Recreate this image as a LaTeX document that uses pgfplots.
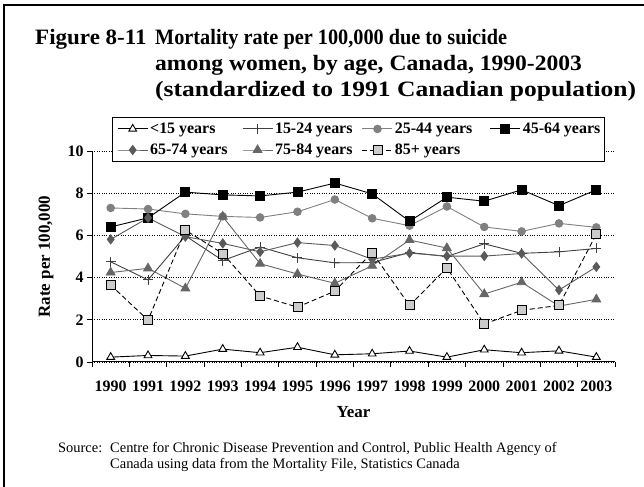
\documentclass[border=0pt]{standalone}
\usepackage{fontspec}
\setmainfont{Liberation Serif}
\usepackage{pgfplots}
\pgfplotsset{compat=1.18}
\definecolor{g15}{HTML}{404040}
\definecolor{g25}{HTML}{808080}
\definecolor{g65}{HTML}{5A5A5A}
\definecolor{g75}{HTML}{666666}
\definecolor{g85}{HTML}{CCCCCC}
\begin{document}
\begin{tikzpicture}[x=1bp,y=1bp]
\useasboundingbox (0,0) rectangle (644,487);
\draw[line width=1.5bp] (4,0) -- (4,482) -- (644,482);
\coordinate (AX) at (92,125);
\begin{scope}[font=\bfseries\fontsize{22}{25}\selectfont]
\node[anchor=base west,inner sep=0] at (35,442) {\scalebox{1.05}[1]{Figure 8-11}};
\node[anchor=base west,inner sep=0] at (155,442) {\scalebox{0.925}[1]{Mortality rate per 100,000 due to suicide}};
\node[anchor=base west,inner sep=0] at (155,416) {\scalebox{1.075}[1]{among women, by age, Canada, 1990-2003}};
\node[anchor=base west,inner sep=0] at (155,390) {\scalebox{1.165}[1]{(standardized to 1991 Canadian population)}};
\end{scope}
\begin{scope}[font=\fontsize{14.5}{16}\selectfont]
\node[anchor=base west,inner sep=0] at (58,34) {Source:};
\node[anchor=base west,inner sep=0] at (110,34) {Centre for Chronic Disease Prevention and Control, Public Health Agency of};
\node[anchor=base west,inner sep=0] at (110,18) {Canada using data from the Mortality File, Statistics Canada};
\end{scope}
\begin{axis}[
  at={(AX)}, anchor=south west, scale only axis,
  width=523bp, height=211bp,
  xmin=1989.5, xmax=2003.5, ymin=0, ymax=10,
  axis x line*=bottom, axis y line*=left,
  axis line style={line width=1bp},
  xtick={1989.5,1990.5,...,2003.5},
  x tick label as interval,
  xticklabels={1990,1991,1992,1993,1994,1995,1996,1997,1998,1999,2000,2001,2002,2003},
  ytick={0,2,4,6,8,10},
  tick align=outside, major tick length=5bp,
  tick style={black, line width=0.8bp},
  ymajorgrids, grid style={black, dotted, line width=0.8bp},
  /pgf/number format/assume math mode=true,
  ticklabel style={font=\bfseries\fontsize{16}{16}\selectfont},
  xticklabel style={yshift=-10bp},
  xlabel={Year}, ylabel={Rate per 100,000},
  label style={font=\bfseries\fontsize{17}{17}\selectfont},
  xlabel style={at={(axis description cs:0.5,-0.237)}, anchor=center},
  ylabel style={at={(axis description cs:-0.088,0.5)}, anchor=center},
  legend columns=4,
  legend style={at={(axis description cs:0.038,1.161)}, anchor=north west,
    draw=black, line width=0.8bp, font=\bfseries\fontsize{16}{17}\selectfont,
    inner xsep=1bp, inner ysep=3.5bp, row sep=5bp,
    /tikz/every even column/.append style={column sep=0bp}},
  legend cell align=left,
  legend image code/.code={\path (0bp,0bp); \draw[mark repeat=2,mark phase=2] plot coordinates {(4bp,0bp)(19bp,0bp)(34bp,0bp)};},
  every axis plot/.append style={line width=0.9bp},
]
\addplot[black, mark=triangle*, mark size=4.5bp, mark options={fill=white, draw=black}] coordinates {
(1990,0.23)(1991,0.31)(1992,0.28)(1993,0.61)(1994,0.44)(1995,0.70)(1996,0.34)(1997,0.39)(1998,0.52)(1999,0.23)(2000,0.58)(2001,0.44)(2002,0.53)(2003,0.23)};
\addlegendentry{\makebox[86bp][l]{<15 years}}
\addplot[g15, mark=+, mark size=5bp] coordinates {
(1990,4.75)(1991,3.89)(1992,5.98)(1993,4.81)(1994,5.45)(1995,4.94)(1996,4.70)(1997,4.71)(1998,5.19)(1999,5.00)(2000,5.60)(2001,5.15)(2002,5.22)(2003,5.38)};
\addlegendentry{\makebox[81bp][l]{15-24 years}}
\addplot[g25, mark=*, mark size=3.8bp] coordinates {
(1990,7.30)(1991,7.25)(1992,7.02)(1993,6.90)(1994,6.85)(1995,7.12)(1996,7.70)(1997,6.81)(1998,6.46)(1999,7.37)(2000,6.40)(2001,6.19)(2002,6.57)(2003,6.38)};
\addlegendentry{\makebox[89bp][l]{25-44 years}}
\addplot[black, mark=square*, mark size=4.5bp] coordinates {
(1990,6.40)(1991,6.83)(1992,8.05)(1993,7.92)(1994,7.87)(1995,8.05)(1996,8.48)(1997,7.97)(1998,6.67)(1999,7.81)(2000,7.62)(2001,8.16)(2002,7.41)(2003,8.16)};
\addlegendentry{\makebox[79bp][l]{45-64 years}}
\addplot[g65, mark=diamond*, mark size=4.5bp] coordinates {
(1990,5.81)(1991,6.83)(1992,5.94)(1993,5.62)(1994,5.22)(1995,5.66)(1996,5.52)(1997,4.87)(1998,5.16)(1999,5.02)(2000,5.02)(2001,5.14)(2002,3.41)(2003,4.51)};
\addlegendentry{\makebox[86bp][l]{65-74 years}}
\addplot[g75, mark=triangle*, mark size=5bp] coordinates {
(1990,4.24)(1991,4.44)(1992,3.49)(1993,6.89)(1994,4.66)(1995,4.17)(1996,3.73)(1997,4.56)(1998,5.78)(1999,5.40)(2000,3.22)(2001,3.78)(2002,2.65)(2003,2.97)};
\addlegendentry{\makebox[81bp][l]{75-84 years}}
\addplot[black, dash pattern=on 5bp off 3bp, mark=square*, mark size=4.5bp, mark options={fill=g85, draw=black, solid}] coordinates {
(1990,3.65)(1991,1.98)(1992,6.25)(1993,5.14)(1994,3.13)(1995,2.60)(1996,3.36)(1997,5.19)(1998,2.68)(1999,4.46)(2000,1.80)(2001,2.45)(2002,2.68)(2003,6.06)};
\addlegendentry{\makebox[89bp][l]{85+ years}}
\end{axis}
\end{tikzpicture}
\end{document}
